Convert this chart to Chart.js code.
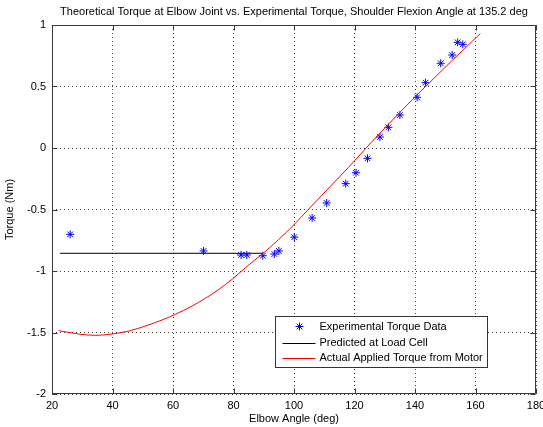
<!DOCTYPE html>
<html><head><meta charset="utf-8">
<script src="https://cdn.jsdelivr.net/npm/chart.js@4/dist/chart.umd.min.js"></script>
<style>html,body{margin:0;padding:0;background:#fff;}#wrap{width:543px;height:427px;}</style>
</head><body><div id="wrap"><canvas id="c" width="543" height="427"></canvas></div>
<script>
const titleText = "Theoretical Torque at Elbow Joint vs. Experimental Torque, Shoulder Flexion Angle at 135.2 deg";
const xAxisTitle = "Elbow Angle (deg)";
const yAxisTitle = "Torque (Nm)";
const seriesNames = ["Experimental Torque Data", "Predicted at Load Cell", "Actual Applied Torque from Motor"];

const expAngle  = [26.0, 70.1, 82.5, 84.4, 89.7, 93.5, 95.0, 100.1, 106.0, 110.8, 117.1, 120.5, 124.3, 128.4, 131.2, 135.0, 140.7, 143.5, 148.5, 152.3, 154.1, 155.8];
const expTorque = [-0.702, -0.837, -0.870, -0.870, -0.876, -0.862, -0.837, -0.725, -0.569, -0.447, -0.290, -0.201, -0.084, 0.089, 0.168, 0.268, 0.412, 0.531, 0.689, 0.756, 0.859, 0.843];

const loadAngle  = [22.6, 89.7];
const loadTorque = [-0.856, -0.856];

const motorAngle  = [22.2, 28.8, 34.3, 39.9, 45.4, 50.9, 56.4, 60.8, 66.3, 70.7, 75.2, 79.6, 84.0, 89.5, 94.9, 99.9, 104.8, 112.0, 118.0, 125.7, 135.0, 143.5, 152.0, 161.6];
const motorTorque = [-1.485, -1.512, -1.523, -1.512, -1.488, -1.447, -1.398, -1.352, -1.285, -1.222, -1.149, -1.066, -0.972, -0.862, -0.745, -0.626, -0.498, -0.312, -0.158, 0.050, 0.290, 0.500, 0.705, 0.930];

const xTicks = [20, 40, 60, 80, 100, 120, 140, 160, 180];
const yTicks = [-2, -1.5, -1, -0.5, 0, 0.5, 1];

const toPts = (xs, ys) => xs.map((x, i) => ({x: x, y: ys[i]}));

Chart.defaults.font.family = '"Liberation Sans", Arial, Helvetica, sans-serif';
Chart.defaults.font.size = 11;
Chart.defaults.color = '#000';

const FONT = '11px "Liberation Sans", Arial, Helvetica, sans-serif';

const matlabAxes = {
  id: 'matlabAxes',
  afterDraw(chart) {
    const ctx = chart.ctx;
    const a = chart.chartArea;
    const xs = chart.scales.x, ys = chart.scales.y;
    ctx.save();
    ctx.strokeStyle = '#3a3a3a';
    ctx.lineWidth = 1;
    const L = Math.round(a.left) + 0.5, R = Math.round(a.right) - 0.5;
    const T = Math.round(a.top) + 0.5, B = Math.round(a.bottom) - 0.5;
    ctx.beginPath();
    ctx.rect(L, T, R - L, B - T);
    ctx.stroke();
    const tl = 5;
    ctx.beginPath();
    xTicks.forEach(v => {
      const px = Math.round(xs.getPixelForValue(v)) + 0.5;
      ctx.moveTo(px, B); ctx.lineTo(px, B - tl);
      ctx.moveTo(px, T); ctx.lineTo(px, T + tl);
    });
    yTicks.forEach(v => {
      const py = Math.round(ys.getPixelForValue(v)) + 0.5;
      ctx.moveTo(L, py); ctx.lineTo(L + tl, py);
      ctx.moveTo(R, py); ctx.lineTo(R - tl, py);
    });
    ctx.stroke();

    // legend box inside plot area
    const bw = 212, bh = 51;
    const bx = Math.round(a.right - 49 - bw) + 0.5;
    const by = Math.round(a.bottom - 27 - bh) + 0.5;
    ctx.fillStyle = '#fff';
    ctx.fillRect(bx, by, bw, bh);
    ctx.strokeStyle = '#333';
    ctx.strokeRect(bx, by, bw, bh);
    const rows = [10, 26.5, 41.5];
    ctx.font = FONT;
    ctx.textBaseline = 'middle';
    ctx.textAlign = 'left';
    chart.data.datasets.forEach((ds, i) => {
      const cy = by + rows[i];
      if (ds.showLine === false) {
        ctx.strokeStyle = ds.borderColor;
        ctx.lineWidth = ds.borderWidth;
        ctx.beginPath();
        const r = ds.pointRadius;
        const cx = bx + 24;
        ctx.moveTo(cx - r, cy); ctx.lineTo(cx + r, cy);
        ctx.moveTo(cx, cy - r); ctx.lineTo(cx, cy + r);
        const d = r * 0.7071;
        ctx.moveTo(cx - d, cy - d); ctx.lineTo(cx + d, cy + d);
        ctx.moveTo(cx - d, cy + d); ctx.lineTo(cx + d, cy - d);
        ctx.stroke();
      } else {
        ctx.strokeStyle = ds.borderColor;
        ctx.lineWidth = ds.borderWidth;
        ctx.beginPath();
        ctx.moveTo(bx + 7, Math.round(cy) + 0.5);
        ctx.lineTo(bx + 40, Math.round(cy) + 0.5);
        ctx.stroke();
      }
      ctx.fillStyle = '#000';
      ctx.fillText(ds.label, bx + 44, cy);
    });
    ctx.restore();
  }
};

new Chart(document.getElementById('c'), {
  type: 'scatter',
  data: {
    datasets: [
      {
        label: seriesNames[0],
        data: toPts(expAngle, expTorque),
        showLine: false,
        pointStyle: 'star',
        pointRadius: 4,
        borderColor: '#0000ff',
        backgroundColor: '#0000ff',
        borderWidth: 1,
        order: 1
      },
      {
        label: seriesNames[1],
        data: toPts(loadAngle, loadTorque),
        showLine: true,
        pointRadius: 0,
        borderColor: '#000000',
        borderWidth: 1,
        order: 2
      },
      {
        label: seriesNames[2],
        data: toPts(motorAngle, motorTorque),
        showLine: true,
        pointRadius: 0,
        borderColor: '#ff0000',
        borderWidth: 1,
        cubicInterpolationMode: 'monotone',
        order: 0
      }
    ]
  },
  options: {
    responsive: false,
    animation: false,
    devicePixelRatio: 1,
    layout: {padding: {left: 0, right: 7, top: 0, bottom: 0}},
    plugins: {legend: {display: false}, tooltip: {enabled: false}, title: {display: false}},
    scales: {
      x: {
        type: 'linear', position: 'bottom', min: 20, max: 180,
        afterBuildTicks: s => { s.ticks = xTicks.map(v => ({value: v})); },
        afterFit: s => { s.height = 33; s.paddingLeft = 0; s.paddingRight = 0; },
        ticks: {padding: 5, maxRotation: 0, autoSkip: false, color: '#000', font: {size: 11}, callback: v => String(v)},
        grid: {color: 'rgba(0,0,0,0.75)', lineWidth: 1, drawTicks: false},
        border: {display: false, dash: [1, 3]},
        title: {display: true, text: xAxisTitle, color: '#000', font: {size: 11}, padding: {top: 0, bottom: 1.5}}
      },
      x2: {
        type: 'linear', position: 'top', min: 20, max: 180,
        afterFit: s => { s.height = 25; s.paddingLeft = 0; s.paddingRight = 0; },
        ticks: {display: false},
        grid: {display: false, drawTicks: false},
        border: {display: false},
        title: {display: true, text: titleText, color: '#000', font: {size: 11}, padding: {top: 5, bottom: 0}}
      },
      y: {
        type: 'linear', position: 'left', min: -2, max: 1,
        afterBuildTicks: s => { s.ticks = yTicks.map(v => ({value: v})); },
        afterFit: s => { s.width = 52; },
        ticks: {padding: 6, color: '#000', font: {size: 11}, callback: v => String(v)},
        grid: {color: 'rgba(0,0,0,0.75)', lineWidth: 1, drawTicks: false},
        border: {display: false, dash: [1, 3]},
        title: {display: true, text: yAxisTitle, color: '#000', font: {size: 11}, padding: {top: 3, bottom: 0}}
      }
    }
  },
  plugins: [matlabAxes]
});
</script></body></html>
